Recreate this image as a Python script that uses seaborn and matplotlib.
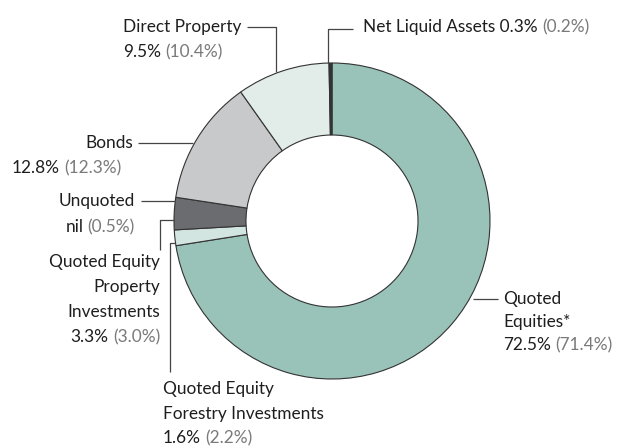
import matplotlib
matplotlib.use("Agg")
import matplotlib.pyplot as plt
import seaborn as sns

# ── Data ───────────────────────────────────────────
categories = ["Quoted Equities*", "Quoted Equity Forestry Investments",
              "Quoted Equity Property Investments", "Unquoted", "Bonds",
              "Direct Property", "Net Liquid Assets"]
current  = [72.5, 1.6, 3.3, 0.0, 12.8, 9.5, 0.3]
previous = [71.4, 2.2, 3.0, 0.5, 12.3, 10.4, 0.2]
current_txt = ["72.5%", "1.6%", "3.3%", "nil", "12.8%", "9.5%", "0.3%"]
colors = ["#99c2b8", "#d3e5e0", "#6b6c6f", "#6b6c6f", "#c8c9cb",
          "#e2ede9", "#333333"]

W, H = 627, 447
BLACK = "#1e1e1e"
GREY  = "#7a7a7a"
LINE  = "#444444"

sns.set_style("white")
plt.rcParams["font.family"] = ["Lato", "DejaVu Sans"]
FS = 12.4

fig = plt.figure(figsize=(W / 100, H / 100), dpi=100)

# ── Donut ──────────────────────────────────────────
ax = fig.add_axes([0, 0, 1, 1])
vals = [v for v in current if v > 0]
cols = [c for v, c in zip(current, colors) if v > 0]
ax.pie(vals, colors=cols, startangle=90, counterclock=False,
       center=(332, H - 221), radius=158, frame=True,
       wedgeprops=dict(width=72, edgecolor="#333333", linewidth=0.8))
ax.set_xlim(0, W)
ax.set_ylim(0, H)
ax.set_aspect("auto")
ax.axis("off")

# ── Labels (overlay in pixel coords, y down) ───────
ov = fig.add_axes([0, 0, 1, 1], facecolor="none")
ov.set_xlim(0, W)
ov.set_ylim(H, 0)
ov.axis("off")


def line(xs, ys):
    ov.plot(xs, ys, color=LINE, lw=0.9, solid_capstyle="butt")


def two_tone(x, y, black, grey, ha="left"):
    # one line of text: black part then grey part in brackets
    if ha == "left":
        t = ov.text(x, y, black, color=BLACK, fontsize=FS, ha="left", va="center")
        ov.annotate(grey, xy=(1, 0.5), xycoords=t, xytext=(3, 0),
                    textcoords="offset points", color=GREY, fontsize=FS,
                    ha="left", va="center")
    else:
        t = ov.text(x, y, grey, color=GREY, fontsize=FS, ha="right", va="center")
        ov.annotate(black, xy=(0, 0.5), xycoords=t, xytext=(-3, 0),
                    textcoords="offset points", color=BLACK, fontsize=FS,
                    ha="right", va="center")


def prev(i):
    return f"({previous[i]:.1f}%)"


# Quoted Equities
line([473, 498], [299, 299])
ov.text(503, 299, "Quoted", color=BLACK, fontsize=FS, va="center")
ov.text(503, 322, "Equities*", color=BLACK, fontsize=FS, va="center")
two_tone(503, 345, current_txt[0], prev(0))

# Forestry
line([175, 170, 170], [243, 243, 372])
ov.text(163, 389, "Quoted Equity", color=BLACK, fontsize=FS, va="center")
ov.text(163, 414, "Forestry Investments", color=BLACK, fontsize=FS, va="center")
two_tone(163, 438, current_txt[1], prev(1))

# Property
line([174, 160, 160], [220, 220, 250])
ov.text(160, 262, "Quoted Equity", color=BLACK, fontsize=FS, ha="right", va="center")
ov.text(160, 287, "Property", color=BLACK, fontsize=FS, ha="right", va="center")
ov.text(160, 312, "Investments", color=BLACK, fontsize=FS, ha="right", va="center")
two_tone(160, 337, current_txt[2], prev(2), ha="right")

# Unquoted
line([141, 175], [201, 201])
ov.text(135, 201, "Unquoted", color=BLACK, fontsize=FS, ha="right", va="center")
two_tone(135, 227, current_txt[3], prev(3), ha="right")

# Bonds
line([138, 193], [143, 143])
ov.text(85, 143, "Bonds", color=BLACK, fontsize=FS, va="center")
two_tone(12, 168, current_txt[4], prev(4))

# Direct Property
line([247, 276, 276], [27, 27, 72])
ov.text(123, 27, "Direct Property", color=BLACK, fontsize=FS, va="center")
two_tone(123, 52, current_txt[5], prev(5))

# Net Liquid Assets
line([328, 328, 353], [63, 29, 29])
two_tone(363, 27, "Net Liquid Assets " + current_txt[6], prev(6))

fig.savefig("out.png", dpi=100)
